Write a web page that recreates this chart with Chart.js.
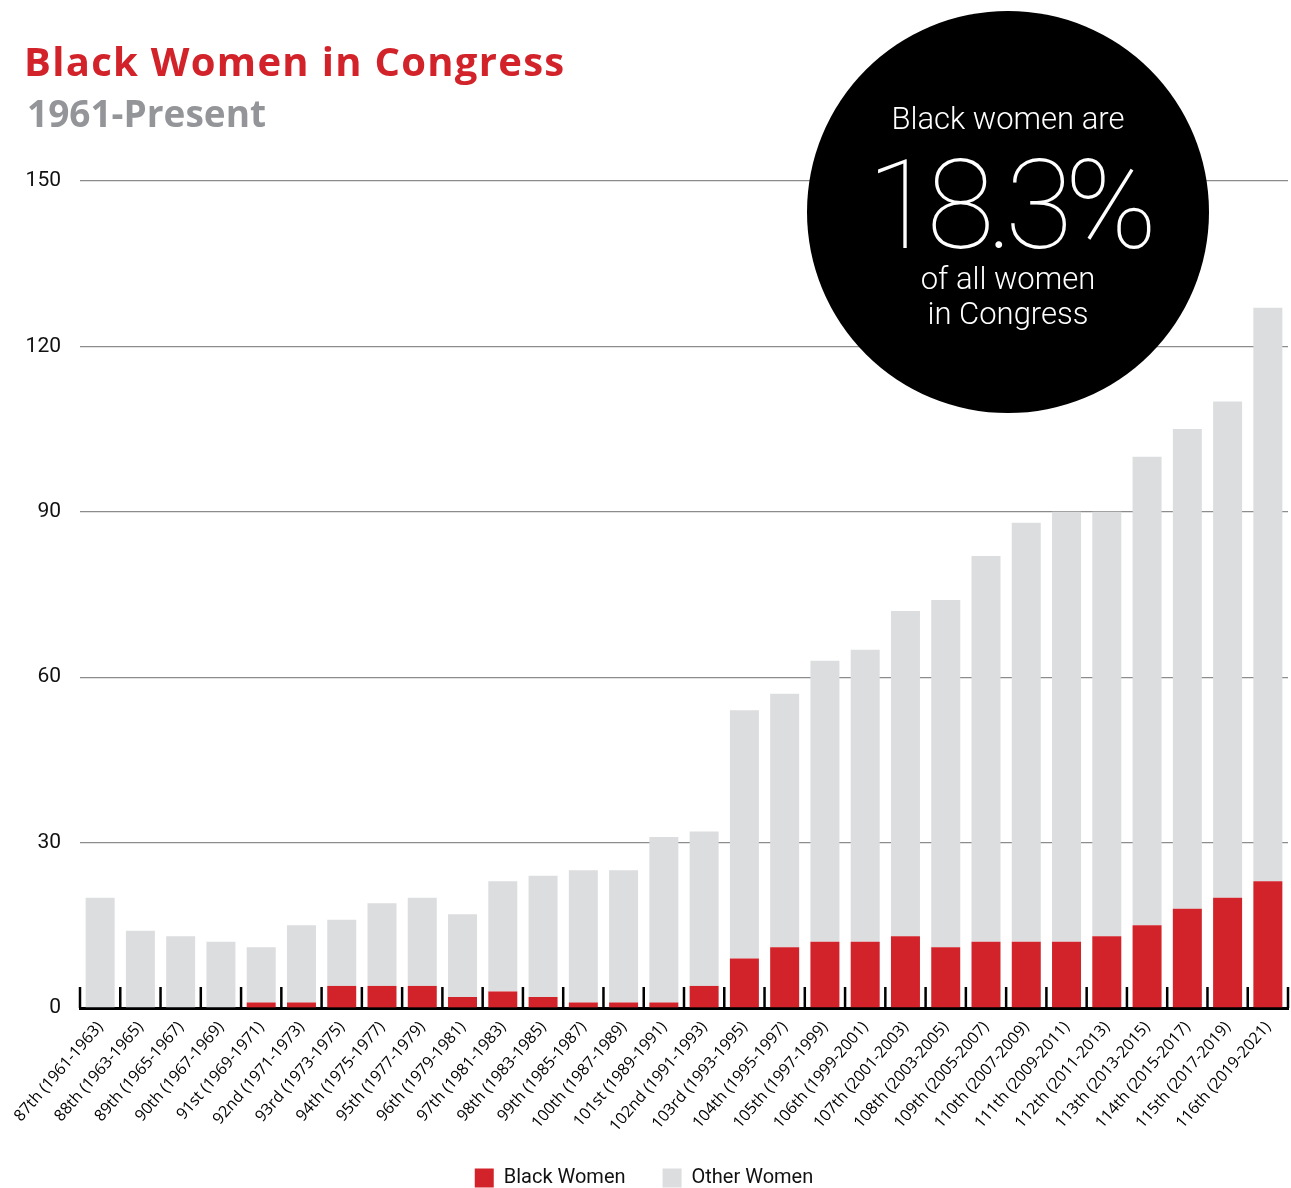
<!DOCTYPE html>
<html lang="en">
<head>
  <meta charset="UTF-8">
  <title>Black Women in Congress</title>
  <script src="https://cdn.jsdelivr.net/npm/chart.js"></script>
  <style>
    html, body { margin: 0; padding: 0; background: #fff; }
    #wrap { position: relative; width: 1291px; height: 1188px; overflow: hidden; }
    #wrap canvas { position: absolute; left: 0; top: 0; }
    .title {
      position: absolute; left: 24px; top: 41px; margin: 0;
      font-family: "Open Sans", sans-serif; font-weight: 700;
      font-size: 40px; line-height: 1; color: #d2232a; white-space: nowrap;
      letter-spacing: 1.3px;
    }
    .subtitle {
      position: absolute; left: 27px; top: 94px; margin: 0;
      font-family: "Open Sans", sans-serif; font-weight: 700;
      font-size: 37px; line-height: 1; color: #939598; white-space: nowrap;
    }
    #bubble {
      position: absolute; left: 807px; top: 11px; width: 402px; height: 402px;
      border-radius: 50%; background: #000;
    }
    .btext {
      position: absolute; left: 807px; width: 402px; text-align: center;
      color: #fff; font-family: Roboto, sans-serif; font-weight: 300;
      font-size: 31px; line-height: 1; white-space: nowrap;
    }
    .big { font-weight: 100; font-size: 124px; letter-spacing: -8px; left: 807px; }
  </style>
</head>
<body>
<div id="wrap">
  <canvas id="myChart" width="1291" height="1188"></canvas>
  <div class="title">Black Women in Congress</div>
  <div class="subtitle">1961-Present</div>
  <div id="bubble"></div>
  <div class="btext" style="top:103px">Black women are</div>
  <div class="btext big" style="top:144px">18.3%</div>
  <div class="btext" style="top:263px">of all women</div>
  <div class="btext" style="top:298px">in Congress</div>
</div>
<script>
  // 届次（标签）
  const congresses = [
    '87th (1961-1963)', '88th (1963-1965)', '89th (1965-1967)', '90th (1967-1969)',
    '91st (1969-1971)', '92nd (1971-1973)', '93rd (1973-1975)', '94th (1975-1977)',
    '95th (1977-1979)', '96th (1979-1981)', '97th (1981-1983)', '98th (1983-1985)',
    '99th (1985-1987)', '100th (1987-1989)', '101st (1989-1991)', '102nd (1991-1993)',
    '103rd (1993-1995)', '104th (1995-1997)', '105th (1997-1999)', '106th (1999-2001)',
    '107th (2001-2003)', '108th (2003-2005)', '109th (2005-2007)', '110th (2007-2009)',
    '111th (2009-2011)', '112th (2011-2013)', '113th (2013-2015)', '114th (2015-2017)',
    '115th (2017-2019)', '116th (2019-2021)'
  ];
  const blackWomen = [0, 0, 0, 0, 1, 1, 4, 4, 4, 2, 3, 2, 1, 1, 1, 4, 9, 11, 12, 12, 13, 11, 12, 12, 12, 13, 15, 18, 20, 23];
  const otherWomen = [20, 14, 13, 12, 10, 14, 12, 15, 16, 15, 20, 22, 24, 24, 30, 28, 45, 46, 51, 53, 59, 63, 70, 76, 78, 77, 85, 87, 90, 104];
  const yTicks = [0, 30, 60, 90, 120, 150];

  const RED = '#d2232a';
  const GREY = '#dcdddf';

  // 类别之间的小刻度线（向上画）
  const innerTicks = {
    id: 'innerTicks',
    afterDatasetsDraw(chart) {
      const x = chart.scales.x, ctx = chart.ctx;
      const bottom = chart.chartArea.bottom;
      const half = (x.getPixelForValue(1) - x.getPixelForValue(0)) / 2;
      ctx.save();
      ctx.strokeStyle = '#000';
      ctx.lineWidth = 2.5;
      for (let i = 0; i <= congresses.length; i++) {
        const px = x.getPixelForValue(i) - half;
        ctx.beginPath();
        ctx.moveTo(px, bottom - 21);
        ctx.lineTo(px, bottom);
        ctx.stroke();
      }
      ctx.restore();
    }
  };

  const ctx = document.getElementById('myChart').getContext('2d');
  const chart = new Chart(ctx, {
    type: 'bar',
    data: {
      labels: congresses,
      datasets: [
        { label: 'Black Women', data: blackWomen, backgroundColor: RED, barPercentage: 0.72, categoryPercentage: 1 },
        { label: 'Other Women', data: otherWomen, backgroundColor: GREY, barPercentage: 0.72, categoryPercentage: 1 }
      ]
    },
    options: {
      responsive: false,
      animation: false,
      layout: { padding: { top: 181, left: 0, right: 3, bottom: -10 } },
      plugins: {
        tooltip: { enabled: false },
        legend: {
          position: 'bottom',
          labels: {
            boxWidth: 19, boxHeight: 19, padding: 37,
            color: '#111',
            font: { family: 'Roboto, sans-serif', size: 20 },
            generateLabels(chart) {
              return chart.data.datasets.map((ds, i) => ({
                text: ds.label, fillStyle: ds.backgroundColor, strokeStyle: ds.backgroundColor,
                lineWidth: 0, datasetIndex: i, fontColor: '#111'
              }));
            }
          }
        }
      },
      scales: {
        x: {
          stacked: true,
          afterFit(scale) { scale.height = 123; },
          grid: { display: false },
          border: { display: true, color: '#000', width: 3 },
          ticks: {
            minRotation: 49, maxRotation: 49, autoSkip: false,
            color: '#000', padding: 2,
            font: { family: "'Open Sans', sans-serif", size: 16 }
          }
        },
        y: {
          stacked: true,
          min: 0, max: 150,
          afterFit(scale) { scale.width = 80; },
          afterBuildTicks(scale) { scale.ticks = yTicks.map(v => ({ value: v })); },
          grid: {
            drawTicks: false,
            color: c => (c.tick && c.tick.value === 0) ? 'rgba(0,0,0,0)' : '#8c8c8c',
            lineWidth: 1.3
          },
          border: { display: false },
          ticks: {
            color: '#111', padding: 19,
            font: { family: 'Roboto, sans-serif', size: 21 }
          }
        }
      }
    },
    plugins: [innerTicks]
  });
</script>
</body>
</html>
